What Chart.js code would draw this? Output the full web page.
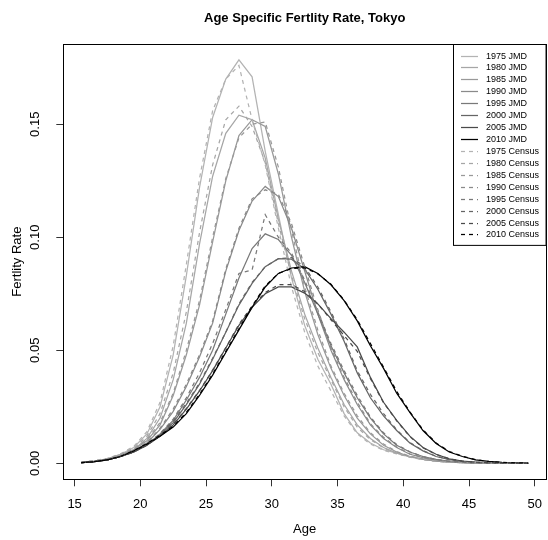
<!DOCTYPE html>
<html>
<head>
<meta charset="utf-8">
<title>Age Specific Fertlity Rate, Tokyo</title>
<script src="https://cdn.jsdelivr.net/npm/chart.js@4/dist/chart.umd.min.js"></script>
<style>
	html, body { margin: 0; padding: 0; background: #fff; overflow: hidden; }
	canvas { display: block; }
</style>
</head>
<body>
<canvas id="asfr" width="552" height="540"></canvas>
<script>
// single-year age groups, plotted at the mid point
const ages = [15.5, 16.5, 17.5, 18.5, 19.5, 20.5, 21.5, 22.5, 23.5, 24.5, 25.5, 26.5, 27.5, 28.5, 29.5, 30.5, 31.5,
	32.5, 33.5, 34.5, 35.5, 36.5, 37.5, 38.5, 39.5, 40.5, 41.5, 42.5, 43.5, 44.5, 45.5, 46.5, 47.5, 48.5, 49.5];
const years = ["1975", "1980", "1985", "1990", "1995", "2000", "2005", "2010"];
const xTicks = [15, 20, 25, 30, 35, 40, 45, 50];
const yTicks = [0, 0.05, 0.10, 0.15];

// Japanese Mortality Database
const jmd1975 = [0.0005, 0.0010, 0.0020, 0.0040, 0.0070, 0.0130, 0.0250, 0.0480, 0.0830, 0.1220, 0.1530, 0.1700, 0.1785, 0.1710, 0.1380, 0.1100, 0.0820, 0.0610, 0.0460, 0.0350, 0.0220, 0.0135, 0.0090, 0.0060, 0.0045, 0.0030, 0.0018, 0.0010, 0.0006, 0.0003, 0.0002, 0.0001, 0.0001, 0.0000, 0.0000];
const jmd1980 = [0.0005, 0.0010, 0.0020, 0.0040, 0.0060, 0.0110, 0.0200, 0.0370, 0.0620, 0.0970, 0.1270, 0.1460, 0.1540, 0.1520, 0.1350, 0.1080, 0.0850, 0.0660, 0.0510, 0.0380, 0.0260, 0.0170, 0.0110, 0.0070, 0.0045, 0.0028, 0.0017, 0.0010, 0.0005, 0.0003, 0.0002, 0.0001, 0.0001, 0.0000, 0.0000];
const jmd1985 = [0.0004, 0.0009, 0.0018, 0.0035, 0.0060, 0.0100, 0.0170, 0.0300, 0.0480, 0.0700, 0.0980, 0.1250, 0.1450, 0.1520, 0.1490, 0.1280, 0.1000, 0.0760, 0.0570, 0.0420, 0.0300, 0.0200, 0.0130, 0.0080, 0.0050, 0.0030, 0.0018, 0.0010, 0.0006, 0.0003, 0.0002, 0.0001, 0.0001, 0.0000, 0.0000];
const jmd1990 = [0.0003, 0.0008, 0.0016, 0.0030, 0.0055, 0.0090, 0.0150, 0.0230, 0.0340, 0.0470, 0.0620, 0.0850, 0.1030, 0.1160, 0.1225, 0.1180, 0.1040, 0.0850, 0.0660, 0.0500, 0.0370, 0.0260, 0.0170, 0.0110, 0.0070, 0.0040, 0.0025, 0.0014, 0.0008, 0.0004, 0.0002, 0.0001, 0.0001, 0.0000, 0.0000];
const jmd1995 = [0.0003, 0.0007, 0.0015, 0.0030, 0.0050, 0.0080, 0.0130, 0.0190, 0.0280, 0.0380, 0.0500, 0.0660, 0.0820, 0.0950, 0.1015, 0.0990, 0.0920, 0.0800, 0.0660, 0.0520, 0.0400, 0.0290, 0.0200, 0.0130, 0.0080, 0.0050, 0.0030, 0.0017, 0.0009, 0.0005, 0.0002, 0.0001, 0.0001, 0.0000, 0.0000];
const jmd2000 = [0.0003, 0.0007, 0.0015, 0.0030, 0.0050, 0.0085, 0.0125, 0.0180, 0.0260, 0.0350, 0.0460, 0.0580, 0.0700, 0.0796, 0.0870, 0.0905, 0.0903, 0.0860, 0.0770, 0.0660, 0.0540, 0.0400, 0.0290, 0.0210, 0.0145, 0.0090, 0.0055, 0.0030, 0.0016, 0.0008, 0.0004, 0.0002, 0.0001, 0.0001, 0.0000];
const jmd2005 = [0.0003, 0.0007, 0.0015, 0.0030, 0.0050, 0.0080, 0.0120, 0.0170, 0.0240, 0.0320, 0.0410, 0.0510, 0.0610, 0.0690, 0.0750, 0.0780, 0.0780, 0.0753, 0.0705, 0.0640, 0.0580, 0.0515, 0.0380, 0.0270, 0.0190, 0.0120, 0.0070, 0.0040, 0.0020, 0.0010, 0.0005, 0.0003, 0.0001, 0.0001, 0.0000];
const jmd2010 = [0.0003, 0.0007, 0.0015, 0.0030, 0.0055, 0.0085, 0.0120, 0.0160, 0.0220, 0.0300, 0.0390, 0.0490, 0.0590, 0.0690, 0.0780, 0.0840, 0.0864, 0.0870, 0.0840, 0.0790, 0.0720, 0.0630, 0.0520, 0.0420, 0.0310, 0.0225, 0.0145, 0.0088, 0.0050, 0.0030, 0.0015, 0.0008, 0.0004, 0.0002, 0.0001];

// census based rates
const cen1975 = [0.0005, 0.0012, 0.0022, 0.0042, 0.0075, 0.0140, 0.0270, 0.0520, 0.0880, 0.1260, 0.1560, 0.1700, 0.1760, 0.1520, 0.1320, 0.1040, 0.0780, 0.0580, 0.0430, 0.0320, 0.0210, 0.0130, 0.0085, 0.0057, 0.0042, 0.0028, 0.0017, 0.0010, 0.0006, 0.0003, 0.0002, 0.0001, 0.0001, 0.0000, 0.0000];
const cen1980 = [0.0005, 0.0011, 0.0021, 0.0041, 0.0065, 0.0120, 0.0220, 0.0400, 0.0670, 0.1020, 0.1320, 0.1520, 0.1580, 0.1490, 0.1330, 0.1060, 0.0830, 0.0640, 0.0490, 0.0370, 0.0250, 0.0160, 0.0105, 0.0068, 0.0044, 0.0027, 0.0016, 0.0009, 0.0005, 0.0003, 0.0001, 0.0001, 0.0000, 0.0000, 0.0000];
const cen1985 = [0.0004, 0.0009, 0.0019, 0.0036, 0.0062, 0.0105, 0.0180, 0.0310, 0.0500, 0.0720, 0.1000, 0.1260, 0.1440, 0.1500, 0.1510, 0.1310, 0.1030, 0.0780, 0.0590, 0.0430, 0.0310, 0.0210, 0.0135, 0.0085, 0.0052, 0.0031, 0.0019, 0.0011, 0.0006, 0.0003, 0.0002, 0.0001, 0.0000, 0.0000, 0.0000];
const cen1990 = [0.0003, 0.0008, 0.0017, 0.0031, 0.0056, 0.0092, 0.0155, 0.0240, 0.0350, 0.0480, 0.0630, 0.0860, 0.1040, 0.1170, 0.1210, 0.1190, 0.1060, 0.0870, 0.0680, 0.0510, 0.0380, 0.0270, 0.0175, 0.0115, 0.0072, 0.0042, 0.0026, 0.0015, 0.0008, 0.0004, 0.0002, 0.0001, 0.0000, 0.0000, 0.0000];
const cen1995 = [0.0003, 0.0007, 0.0015, 0.0030, 0.0050, 0.0082, 0.0132, 0.0195, 0.0290, 0.0400, 0.0530, 0.0680, 0.0840, 0.0855, 0.1100, 0.1000, 0.0930, 0.0810, 0.0670, 0.0530, 0.0410, 0.0300, 0.0205, 0.0135, 0.0083, 0.0051, 0.0030, 0.0017, 0.0009, 0.0005, 0.0002, 0.0001, 0.0000, 0.0000, 0.0000];
const cen2000 = [0.0003, 0.0007, 0.0015, 0.0030, 0.0052, 0.0087, 0.0128, 0.0185, 0.0265, 0.0355, 0.0465, 0.0580, 0.0705, 0.0800, 0.0870, 0.0905, 0.0910, 0.0870, 0.0780, 0.0670, 0.0550, 0.0410, 0.0305, 0.0220, 0.0148, 0.0092, 0.0056, 0.0031, 0.0016, 0.0008, 0.0004, 0.0002, 0.0001, 0.0000, 0.0000];
const cen2005 = [0.0003, 0.0007, 0.0015, 0.0030, 0.0050, 0.0080, 0.0122, 0.0172, 0.0243, 0.0322, 0.0412, 0.0512, 0.0615, 0.0695, 0.0755, 0.0790, 0.0790, 0.0760, 0.0705, 0.0635, 0.0565, 0.0495, 0.0375, 0.0268, 0.0188, 0.0118, 0.0069, 0.0039, 0.0020, 0.0010, 0.0005, 0.0003, 0.0001, 0.0000, 0.0000];
const cen2010 = [0.0003, 0.0007, 0.0016, 0.0031, 0.0056, 0.0087, 0.0123, 0.0163, 0.0225, 0.0305, 0.0395, 0.0495, 0.0595, 0.0695, 0.0785, 0.0840, 0.0862, 0.0865, 0.0838, 0.0792, 0.0722, 0.0635, 0.0530, 0.0425, 0.0318, 0.0228, 0.0148, 0.0090, 0.0052, 0.0031, 0.0016, 0.0008, 0.0004, 0.0002, 0.0001];

const jmdRates = [jmd1975, jmd1980, jmd1985, jmd1990, jmd1995, jmd2000, jmd2005, jmd2010];
const censusRates = [cen1975, cen1980, cen1985, cen1990, cen1995, cen2000, cen2005, cen2010];

// light grey for the oldest year down to black for the latest
const shades = ["#b3b3b3", "#a6a6a6", "#999999", "#8a8a8a", "#797979", "#656565", "#4a4a4a", "#000000"];
const FONT = "'Liberation Sans', Arial, Helvetica, sans-serif";
const TITLE = "Age Specific Fertlity Rate, Tokyo";

function makeSeries(label, values, color, dash, n) {
	return {
		label: label,
		data: values.map(function(v, i) { return {x: ages[i], y: v}; }),
		borderColor: color,
		borderWidth: 1.25,
		borderDash: dash,
		pointRadius: 0,
		tension: 0,
		fill: false,
		order: -n, // later series drawn on top
	};
}

const datasets = [];
years.forEach(function(y, i) {
	datasets.push(makeSeries(y + " JMD", jmdRates[i], shades[i], [], datasets.length));
});
years.forEach(function(y, i) {
	datasets.push(makeSeries(y + " Census", censusRates[i], shades[i], [4, 4], datasets.length));
});

// box round the plot region plus the main title
const framePlugin = {
	id: "frame",
	afterDraw: function(chart) {
		const ctx = chart.ctx;
		const a = chart.chartArea;
		ctx.save();
		ctx.strokeStyle = "#000";
		ctx.lineWidth = 1;
		ctx.strokeRect(Math.round(a.left) + 0.5, Math.round(a.top) + 0.5,
			Math.round(a.right - a.left), Math.round(a.bottom - a.top));
		ctx.fillStyle = "#000";
		ctx.font = "bold 13px " + FONT;
		ctx.textAlign = "center";
		ctx.textBaseline = "middle";
		ctx.fillText(TITLE, (a.left + a.right) / 2, 18);
		ctx.restore();
	}
};

// R style legend in the top right corner
const legendPlugin = {
	id: "cornerLegend",
	afterDraw: function(chart) {
		const ctx = chart.ctx;
		const a = chart.chartArea;
		const left = 453.5;
		const top = Math.round(a.top) + 0.5;
		const rowH = 11.93;
		const items = chart.data.datasets;
		const bottom = top + 11 + rowH * items.length - 1;
		ctx.save();
		ctx.fillStyle = "#fff";
		ctx.fillRect(left, top, a.right - left, bottom - top);
		ctx.strokeStyle = "#000";
		ctx.lineWidth = 1;
		ctx.strokeRect(left, top, a.right - left, bottom - top);
		ctx.font = "9px " + FONT;
		ctx.textAlign = "left";
		ctx.textBaseline = "middle";
		items.forEach(function(ds, i) {
			const y = Math.round(top + 11 + rowH * i) + 0.5;
			ctx.strokeStyle = ds.borderColor;
			ctx.lineWidth = ds.borderWidth;
			ctx.setLineDash(ds.borderDash);
			ctx.beginPath();
			ctx.moveTo(461, y);
			ctx.lineTo(478, y);
			ctx.stroke();
			ctx.setLineDash([]);
			ctx.fillStyle = "#000";
			ctx.fillText(ds.label, 486, y);
		});
		ctx.restore();
	}
};

new Chart(document.getElementById("asfr"), {
	type: "line",
	data: {datasets: datasets},
	options: {
		responsive: false,
		animation: false,
		devicePixelRatio: 1,
		layout: {padding: {top: 44, right: 1.6, left: 0, bottom: 0}},
		plugins: {
			legend: {display: false},
			title: {display: false},
			tooltip: {enabled: false},
		},
		scales: {
			x: {
				type: "linear",
				min: 14.14,
				max: 50.86,
				afterBuildTicks: function(scale) {
					scale.ticks = xTicks.map(function(v) { return {value: v}; });
				},
				afterFit: function(scale) { scale.height = 60.7; },
				border: {display: false},
				grid: {drawOnChartArea: false, drawTicks: true, tickLength: 7, color: "#333"},
				ticks: {
					font: {family: FONT, size: 13},
					color: "#000",
					padding: 10,
					maxRotation: 0,
					callback: function(v) { return String(v); },
				},
				title: {
					display: true,
					text: "Age",
					font: {family: FONT, size: 13},
					color: "#000",
					padding: {top: 0, bottom: 3},
				},
			},
			y: {
				type: "linear",
				min: -0.00708,
				max: 0.1855,
				afterBuildTicks: function(scale) {
					scale.ticks = yTicks.map(function(v) { return {value: v}; });
				},
				afterFit: function(scale) { scale.width = 63.3; },
				border: {display: false},
				grid: {drawOnChartArea: false, drawTicks: true, tickLength: 7, color: "#333"},
				ticks: {
					font: {family: FONT, size: 13},
					color: "#000",
					padding: 8,
					minRotation: 90,
					maxRotation: 90,
					crossAlign: "center",
					callback: function(v) { return v.toFixed(2); },
				},
				title: {
					display: true,
					text: "Fertlity Rate",
					font: {family: FONT, size: 13},
					color: "#000",
					padding: {top: 10, bottom: 0},
				},
			},
		},
	},
	plugins: [framePlugin, legendPlugin],
});
</script>
</body>
</html>
